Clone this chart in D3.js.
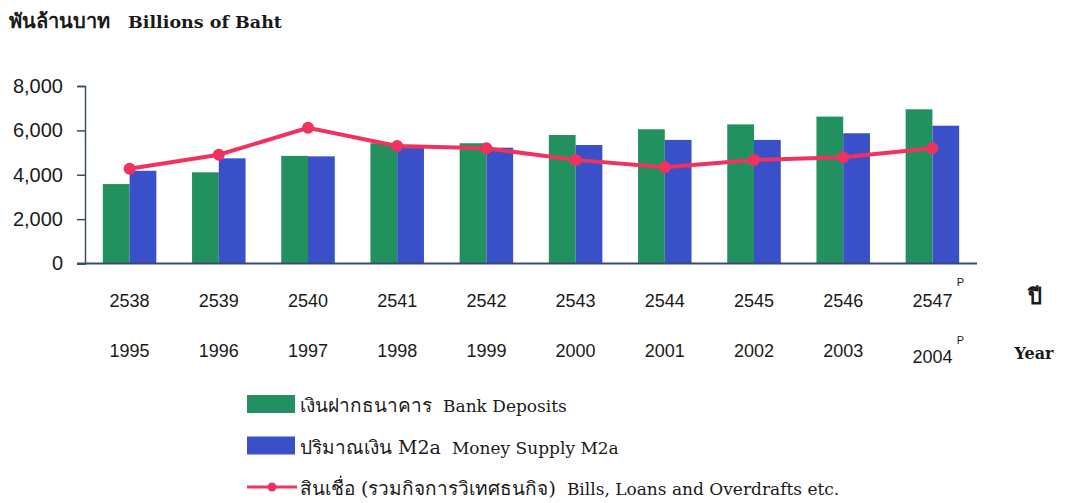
<!DOCTYPE html>
<html>
<head>
<meta charset="utf-8">
<script src="https://cdn.jsdelivr.net/npm/d3@7"></script>
<style>
  body { margin: 0; background: #fff; }
  svg text { fill: #1a1a1a; white-space: pre; }
</style>
</head>
<body>
<div id="chart"></div>
<script>
// chart values
var yearsThai = ["2538", "2539", "2540", "2541", "2542", "2543", "2544", "2545", "2546", "2547"];
var yearsIntl = ["1995", "1996", "1997", "1998", "1999", "2000", "2001", "2002", "2003", "2004"];
var deposits = [3580, 4110, 4850, 5420, 5420, 5790, 6050, 6270, 6620, 6950];
var m2a = [4180, 4740, 4830, 5260, 5220, 5340, 5570, 5570, 5870, 6210];
var loans = [4270, 4900, 6120, 5300, 5190, 4670, 4340, 4670, 4790, 5190];
var yTicks = [0, 2000, 4000, 6000, 8000];

var green = "#22915f", blue = "#3a50c9", red = "#ef325e";
var tickFont = "'Liberation Sans Narrow', 'Liberation Sans', sans-serif";
var serif = "'DejaVu Serif', serif";

var svg = d3.select("#chart").append("svg")
    .attr("width", 1070)
    .attr("height", 503);

// title
svg.append("text")
    .attr("x", 9).attr("y", 28)
    .attr("font-family", serif)
    .attr("font-weight", "bold")
    .attr("font-size", 20)
    .text("พันล้านบาท");
svg.append("text")
    .attr("x", 128).attr("y", 28)
    .attr("font-family", serif)
    .attr("font-weight", "bold")
    .attr("font-size", 17.5)
    .text("Billions of Baht");

var x = d3.scaleBand()
    .domain(yearsThai)
    .range([85, 977])
    .paddingInner(0.4)
    .paddingOuter(0.2);

var y = d3.scaleLinear()
    .domain([0, 8000])
    .range([263.5, 86]);

// y axis
var yAxis = svg.append("g")
    .attr("transform", "translate(85,0)")
    .call(d3.axisLeft(y).tickValues(yTicks).tickSize(8).tickPadding(14)
        .tickFormat(d3.format(",")));
yAxis.select(".domain").attr("stroke", "#3b4a6e").attr("stroke-width", 1.5);
yAxis.selectAll(".tick line").attr("stroke", "#3b4a6e").attr("stroke-width", 1.5);
yAxis.selectAll(".tick text")
    .attr("font-family", tickFont)
    .attr("font-size", 20)
    .attr("fill", "#1a1a1a");

var half = x.bandwidth() / 2;

// bars
svg.append("g").selectAll("rect")
    .data(deposits)
    .join("rect")
    .attr("x", (d, i) => x(yearsThai[i]))
    .attr("y", d => y(d))
    .attr("width", half)
    .attr("height", d => y(0) - y(d))
    .attr("fill", green);

svg.append("g").selectAll("rect")
    .data(m2a)
    .join("rect")
    .attr("x", (d, i) => x(yearsThai[i]) + half)
    .attr("y", d => y(d))
    .attr("width", half)
    .attr("height", d => y(0) - y(d))
    .attr("fill", blue);

// baseline
svg.append("line")
    .attr("x1", 77).attr("x2", 977)
    .attr("y1", y(0)).attr("y2", y(0))
    .attr("stroke", "#3b4a6e").attr("stroke-width", 2);

// loans line
var line = d3.line()
    .x((d, i) => x(yearsThai[i]) + half)
    .y(d => y(d));

svg.append("path")
    .datum(loans)
    .attr("d", line)
    .attr("fill", "none")
    .attr("stroke", red)
    .attr("stroke-width", 4);

svg.append("g").selectAll("circle")
    .data(loans)
    .join("circle")
    .attr("cx", (d, i) => x(yearsThai[i]) + half)
    .attr("cy", d => y(d))
    .attr("r", 6)
    .attr("fill", red);

// x labels, two rows
var labels = svg.append("g")
    .attr("font-family", tickFont)
    .attr("font-size", 18)
    .attr("text-anchor", "middle");

labels.selectAll(".thai")
    .data(yearsThai)
    .join("text")
    .attr("class", "thai")
    .attr("x", d => x(d) + half)
    .attr("y", 307)
    .text(d => d);

labels.selectAll(".intl")
    .data(yearsIntl)
    .join("text")
    .attr("class", "intl")
    .attr("x", (d, i) => x(yearsThai[i]) + half)
    .attr("y", (d, i) => i === yearsIntl.length - 1 ? 363 : 357)
    .text(d => d);

// preliminary marks on the last year
var lastX = x(yearsThai[yearsThai.length - 1]) + half;
svg.append("text")
    .attr("x", lastX + 28).attr("y", 286)
    .attr("text-anchor", "middle")
    .attr("font-family", tickFont).attr("font-size", 11)
    .text("P");
svg.append("text")
    .attr("x", lastX + 28).attr("y", 344)
    .attr("text-anchor", "middle")
    .attr("font-family", tickFont).attr("font-size", 11)
    .text("P");

// axis names
svg.append("text")
    .attr("x", 1035).attr("y", 304)
    .attr("text-anchor", "middle")
    .attr("font-family", serif)
    .attr("font-weight", "bold")
    .attr("font-size", 22)
    .text("ปี");
svg.append("text")
    .attr("x", 1034).attr("y", 359)
    .attr("text-anchor", "middle")
    .attr("font-family", serif)
    .attr("font-weight", "bold")
    .attr("font-size", 16)
    .text("Year");

// legend
var legendItems = [
    { thai: "เงินฝากธนาคาร", eng: "Bank Deposits", color: green, kind: "bar" },
    { thai: "ปริมาณเงิน M2a", eng: "Money Supply M2a", color: blue, kind: "bar" },
    { thai: "สินเชื่อ (รวมกิจการวิเทศธนกิจ)", eng: "Bills, Loans and Overdrafts etc.", color: red, kind: "line" }
];

var legend = svg.append("g")
    .selectAll("g")
    .data(legendItems)
    .join("g")
    .attr("transform", (d, i) => "translate(247," + (412 + i * 41.5) + ")");

legend.filter(d => d.kind === "bar").append("rect")
    .attr("x", 0).attr("y", -17)
    .attr("width", 48).attr("height", 18)
    .attr("fill", d => d.color);

var lineItems = legend.filter(d => d.kind === "line");
lineItems.append("line")
    .attr("x1", 0).attr("x2", 50)
    .attr("y1", -8).attr("y2", -8)
    .attr("stroke", d => d.color).attr("stroke-width", 3);
lineItems.append("circle")
    .attr("cx", 25).attr("cy", -8).attr("r", 4.5)
    .attr("fill", d => d.color);

var thaiText = legend.append("text")
    .attr("x", 53).attr("y", 0)
    .attr("font-family", serif)
    .attr("font-size", 19)
    .attr("fill", "#2a2a2a")
    .text(d => d.thai);

legend.each(function(d, i) {
    var w = thaiText.nodes()[i].getComputedTextLength();
    d3.select(this).append("text")
        .attr("x", 53 + w + 11).attr("y", 0)
        .attr("font-family", serif)
        .attr("font-size", 17)
        .attr("fill", "#2a2a2a")
        .text(d.eng);
});
</script>
</body>
</html>
